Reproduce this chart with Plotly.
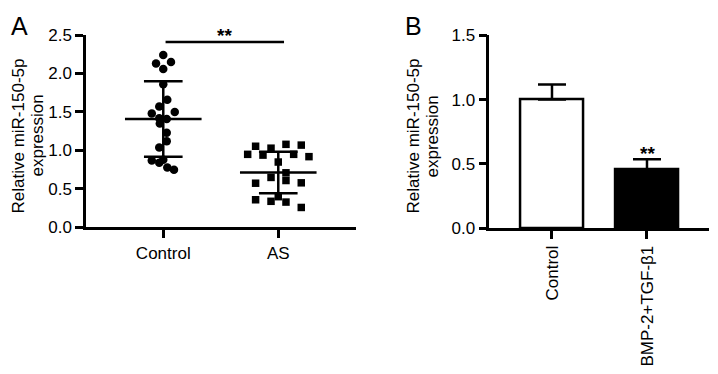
import plotly.graph_objects as go

# ---------------- data ----------------
groups_a = ["Control", "AS"]
control_vals = [2.24, 2.13, 2.15, 2.06, 1.86, 1.66, 1.57, 1.48, 1.50, 1.42,
                1.41, 1.35, 1.23, 1.12, 1.04, 0.87, 0.84, 0.88, 0.78, 0.75]
control_jitter = [0, -0.063, 0.067, 0, 0, 0.035, -0.035, -0.10, 0.10, -0.035,
                  0.03, -0.03, 0.03, 0.03, -0.035, -0.10, -0.035, 0, 0.035, 0.093]
as_vals = [1.055, 1.03, 1.08, 1.07, 0.95, 0.94, 0.95, 0.92, 0.85, 0.65,
           0.71, 0.575, 0.61, 0.58, 0.40, 0.36, 0.34, 0.33, 0.26]
as_jitter = [-0.197, -0.063, 0.067, 0.2, -0.266, -0.133, 0.134, 0.267, 0, -0.063,
             0.067, -0.197, 0.067, 0.2, 0, -0.197, -0.063, 0.067, 0.2]
means_a = [1.41, 0.714]
sds_a = [0.49, 0.27]
ticks_a = [0.0, 0.5, 1.0, 1.5, 2.0, 2.5]

groups_b = ["Control", "BMP-2+TGF-β1"]
means_b = [1.0, 0.458]
errs_b = [0.118, 0.077]
ticks_b = [0.0, 0.5, 1.0, 1.5]

ytitle_lines = ["Relative miR-150-5p", "expression"]

FONT = "Liberation Sans, Arial, sans-serif"
LW = 2.5
W, H = 718, 374
OFF = 8  # default page body margin
FW, FH = W - OFF, H - OFF


def PX(x):
    return (x - OFF) / FW


def PY(y):
    return 1 - (y - OFF) / FH


fig = go.Figure()

# ---------- Panel A ----------
fig.add_trace(go.Scatter(
    x=[0 + j for j in control_jitter], y=control_vals, mode="markers",
    marker=dict(symbol="circle", size=8.5, color="black"),
    xaxis="x", yaxis="y", showlegend=False, cliponaxis=False))
fig.add_trace(go.Scatter(
    x=[1 + j for j in as_jitter], y=as_vals, mode="markers",
    marker=dict(symbol="square", size=7.5, color="black"),
    xaxis="x", yaxis="y", showlegend=False, cliponaxis=False))

lx, ly = [], []
for i, (m, s) in enumerate(zip(means_a, sds_a)):
    lx += [i, i, None]
    ly += [m - s, m + s, None]
    for v in (m - s, m + s):
        lx += [i - 0.168, i + 0.168, None]
        ly += [v, v, None]
    lx += [i - 0.333, i + 0.333, None]
    ly += [m, m, None]
fig.add_trace(go.Scatter(x=lx, y=ly, mode="lines",
                         line=dict(color="black", width=LW),
                         xaxis="x", yaxis="y", showlegend=False, cliponaxis=False))

# significance bar A
fig.add_trace(go.Scatter(x=[0.02, 1.05], y=[2.41, 2.41], mode="lines",
                         line=dict(color="black", width=LW),
                         xaxis="x", yaxis="y", showlegend=False, cliponaxis=False))

# ---------- Panel B ----------
fig.add_trace(go.Bar(
    x=[0, 1], y=means_b, width=0.667,
    marker=dict(color=["white", "black"], line=dict(color="black", width=LW)),
    error_y=dict(type="data", array=errs_b, arrayminus=[0, 0], symmetric=False,
                 color="black", thickness=LW, width=14),
    xaxis="x2", yaxis="y2", showlegend=False))

axis_common = dict(showgrid=False, zeroline=False, showline=True, linecolor="black",
                   linewidth=LW, ticks="outside", ticklen=8, tickwidth=LW,
                   tickcolor="black", tickfont=dict(family=FONT, size=17, color="black"))

fig.update_layout(
    width=FW, height=FH,
    margin=dict(l=0, r=0, t=0, b=0),
    plot_bgcolor="white", paper_bgcolor="white",
    font=dict(family=FONT, color="black"),
    xaxis=dict(domain=[PX(86), PX(356)], range=[-0.672, 1.676],
               tickvals=[0, 1], ticktext=groups_a, anchor="y", **axis_common),
    yaxis=dict(domain=[PY(230), PY(27)], range=[0, 2.5],
               tickvals=ticks_a, ticktext=[f"{t:.1f}" for t in ticks_a],
               anchor="x", **axis_common),
    xaxis2=dict(domain=[PX(489.3), PX(709.3)], range=[-0.66, 1.656],
                tickvals=[0, 1], ticktext=groups_b, tickangle=-90,
                anchor="y2", **axis_common),
    yaxis2=dict(domain=[PY(230.7), PY(27.3)], range=[0, 1.5],
                tickvals=ticks_b, ticktext=[f"{t:.1f}" for t in ticks_b],
                anchor="x2", **axis_common),
    bargap=0,
)

ann = []
for letter, xp in (("A", 19), ("B", 413)):
    ann.append(dict(text=letter, x=PX(xp), y=PY(17), xref="paper", yref="paper",
                    xanchor="center", yanchor="middle", showarrow=False,
                    font=dict(family=FONT, size=25, color="black")))
for (x1, x2, yp) in ((18.5, 37.5, 133.5), (413, 432, 134)):
    for line, xp in zip(ytitle_lines, (x1, x2)):
        ann.append(dict(text=line, x=PX(xp), y=PY(yp),
                        xref="paper", yref="paper", xanchor="center", yanchor="middle",
                        textangle=-90, showarrow=False,
                        font=dict(family=FONT, size=17, color="black")))
ann.append(dict(text="<b>**</b>", x=PX(224), y=PY(28), xref="paper", yref="paper",
                xanchor="center", yanchor="middle", showarrow=False,
                font=dict(family=FONT, size=19, color="black")))
ann.append(dict(text="<b>**</b>", x=PX(647.5), y=PY(152), xref="paper", yref="paper",
                xanchor="center", yanchor="middle", showarrow=False,
                font=dict(family=FONT, size=19, color="black")))
fig.update_layout(annotations=ann)

fig.write_html("out.html")
